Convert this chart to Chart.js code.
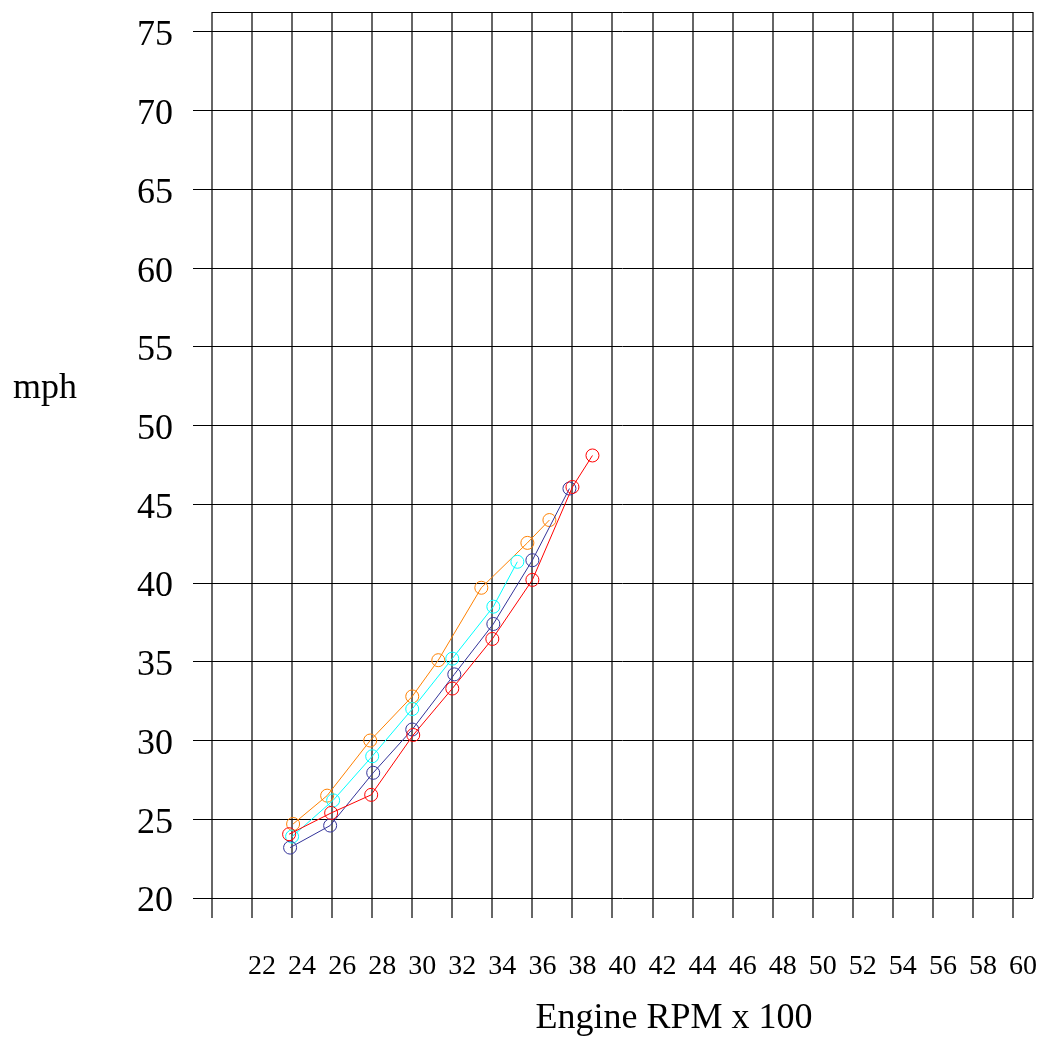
<!DOCTYPE html>
<html>
<head>
<meta charset="utf-8">
<script src="https://cdn.jsdelivr.net/npm/chart.js@4/dist/chart.umd.min.js"></script>
<style>
  html, body { margin: 0; padding: 0; background: #ffffff; }
  #wrap { width: 1044px; height: 1039px; position: relative; }
</style>
</head>
<body>
<div id="wrap"><canvas id="c" width="1044" height="1039"></canvas></div>
<script>
// ---- data ----
const rpmOrange = [24.05, 25.75, 27.9, 30.0, 31.3, 33.45, 35.75, 36.85];
const mphOrange = [24.7, 26.5, 30.0, 32.8, 35.1, 39.7, 42.55, 44.0];
const rpmCyan = [24.0, 26.05, 28.0, 30.0, 32.0, 34.05, 35.25];
const mphCyan = [23.9, 26.2, 29.0, 32.0, 35.2, 38.5, 41.35];
const rpmBlue = [23.9, 25.9, 28.05, 30.0, 32.1, 34.05, 36.0, 37.85];
const mphBlue = [23.2, 24.6, 27.95, 30.7, 34.2, 37.4, 41.45, 46.0];
const rpmRed = [23.85, 25.95, 27.95, 30.05, 32.0, 34.0, 36.0, 38.0, 39.0];
const mphRed = [24.05, 25.4, 26.55, 30.35, 33.3, 36.45, 40.2, 46.1, 48.1];

const xTickValues = [20, 22, 24, 26, 28, 30, 32, 34, 36, 38, 40, 42, 44, 46, 48, 50, 52, 54, 56, 58, 60];
const yTickValues = [20, 25, 30, 35, 40, 45, 50, 55, 60, 65, 70, 75];
const xTitle = 'Engine RPM x 100';
const yTitle = 'mph';

const toPoints = (xs, ys) => xs.map((x, i) => ({ x: x, y: ys[i] }));

function series(label, xs, ys, color, order) {
  return {
    label: label,
    data: toPoints(xs, ys),
    borderColor: color,
    backgroundColor: 'rgba(0,0,0,0)',
    borderWidth: 1,
    pointRadius: 6.5,
    pointBorderWidth: 1,
    pointBorderColor: color,
    pointBackgroundColor: 'rgba(0,0,0,0)',
    pointStyle: 'circle',
    tension: 0,
    fill: false,
    order: order
  };
}

const serif = '"Liberation Serif", "DejaVu Serif", serif';

function noOverflowPadding(scale) {
  scale.paddingTop = 0;
  scale.paddingBottom = 0;
  scale.paddingLeft = 0;
  scale.paddingRight = 0;
}

const framePlugin = {
  id: 'frame',
  beforeDatasetsDraw(chart) {
    const { ctx, chartArea: a } = chart;
    ctx.save();
    ctx.strokeStyle = '#000000';
    ctx.lineWidth = 1;
    ctx.beginPath();
    ctx.moveTo(a.left, Math.round(a.top) + 0.5);
    ctx.lineTo(a.right, Math.round(a.top) + 0.5);
    ctx.stroke();
    ctx.strokeStyle = 'rgba(0,0,0,0.6)';
    ctx.lineWidth = 2;
    ctx.beginPath();
    ctx.moveTo(Math.round(a.right), a.top);
    ctx.lineTo(Math.round(a.right), a.bottom);
    ctx.stroke();
    ctx.restore();
  }
};

const titlesPlugin = {
  id: 'axisTitles',
  afterDraw(chart) {
    const { ctx } = chart;
    ctx.save();
    ctx.fillStyle = '#000000';
    ctx.font = '36px ' + serif;
    ctx.textBaseline = 'alphabetic';
    ctx.textAlign = 'left';
    ctx.fillText(yTitle, 13, 398);
    ctx.textAlign = 'center';
    ctx.fillText(xTitle, 674, 1028);
    ctx.restore();
  }
};

new Chart(document.getElementById('c'), {
  type: 'line',
  data: {
    datasets: [
      series('Series 1', rpmOrange, mphOrange, '#ff8000', 4),
      series('Series 2', rpmCyan, mphCyan, '#00ffff', 3),
      series('Series 3', rpmBlue, mphBlue, '#333399', 2),
      series('Series 4', rpmRed, mphRed, '#ff0000', 1)
    ]
  },
  options: {
    responsive: false,
    animation: false,
    devicePixelRatio: 1,
    layout: { padding: { top: 12, right: 11, left: 0, bottom: 0 } },
    plugins: {
      legend: { display: false },
      tooltip: { enabled: false },
      title: { display: false }
    },
    scales: {
      x: {
        type: 'linear',
        min: 20,
        max: 61,
        afterBuildTicks(scale) { scale.ticks = xTickValues.map(v => ({ value: v })); },
        afterFit(scale) { scale.height = 141; noOverflowPadding(scale); },
        border: { display: false },
        grid: {
          color: 'rgba(0,0,0,0.6)',
          lineWidth: 2,
          tickLength: 20,
          drawTicks: true
        },
        ticks: {
          autoSkip: false,
          maxRotation: 0,
          padding: 32,
          labelOffset: 10,
          color: '#000000',
          font: { family: serif, size: 28 },
          callback: (v) => (v === xTickValues[0] ? '' : String(v))
        },
        title: { display: false }
      },
      y: {
        type: 'linear',
        min: 20,
        max: 76.26,
        afterBuildTicks(scale) { scale.ticks = yTickValues.map(v => ({ value: v })); },
        afterFit(scale) { scale.width = 212; noOverflowPadding(scale); },
        border: { display: false },
        grid: {
          color: '#000000',
          lineWidth: 1,
          tickLength: 19,
          drawTicks: true
        },
        ticks: {
          padding: 20,
          labelOffset: 4,
          color: '#000000',
          font: { family: serif, size: 36 },
          callback: (v) => String(v)
        },
        title: { display: false }
      }
    }
  },
  plugins: [framePlugin, titlesPlugin]
});
</script>
</body>
</html>
